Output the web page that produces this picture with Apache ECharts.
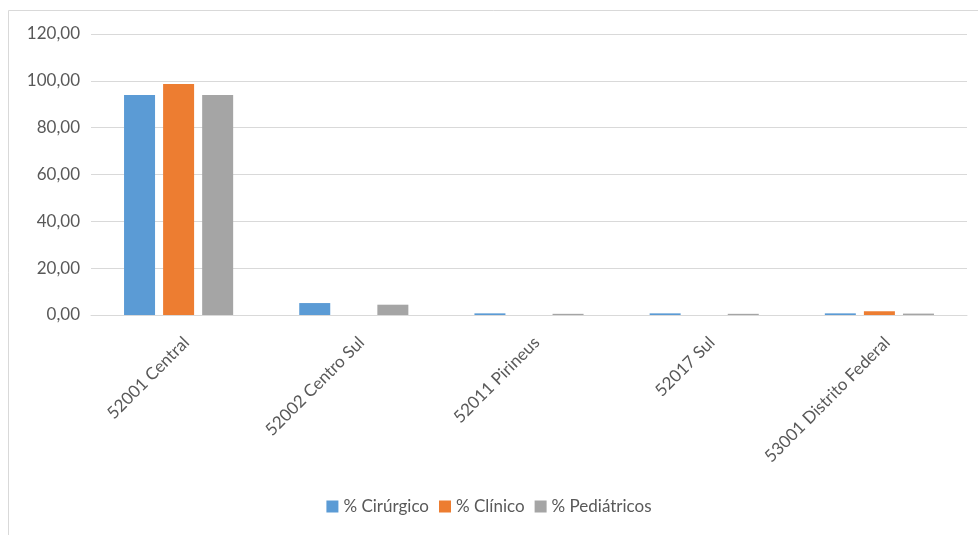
<!DOCTYPE html>
<html><head><meta charset="utf-8">
<script src="https://cdn.jsdelivr.net/npm/echarts@6/dist/echarts.min.js"></script>
<style>html,body{margin:0;padding:0;background:#fff}#c{width:978px;height:535px}</style>
</head><body><div id="c"></div>
<script>
const categories = ['52001 Central', '52002 Centro Sul', '52011 Pirineus', '52017 Sul', '53001 Distrito Federal'];
const cirurgico = [94.0, 5.1, 0.7, 0.7, 0.7];
const clinico = [98.7, 0, 0, 0, 1.6];
const pediatricos = [94.0, 4.4, 0.5, 0.5, 0.6];
const seriesNames = ['% Cirúrgico', '% Clínico', '% Pediátricos'];
const colors = ['#5b9bd5', '#ed7d31', '#a5a5a5'];

const chart = echarts.init(document.getElementById('c'), null, {renderer: 'canvas'});
const font = 'Lato, "Open Sans", sans-serif';
const fs = 17;
const mk = (name, data, i) => ({
  name, type: 'bar', data, barWidth: 31, barGap: '26%',
  itemStyle: {color: colors[i]}
});
chart.setOption({
  animation: false,
  textStyle: {fontFamily: font},
  graphic: [{type: 'polyline', shape: {points: [[8.5, 535], [8.5, 10.5], [978, 10.5]]},
    style: {stroke: '#d9d9d9', lineWidth: 1, fill: null}}],
  grid: {left: 91, right: 11, top: 34, bottom: 220},
  legend: {bottom: 15, left: 'center', itemWidth: 12, itemHeight: 12, itemGap: 10,
    icon: 'rect', textStyle: {color: '#595959', fontSize: fs, fontFamily: font},
    data: seriesNames},
  xAxis: {type: 'category', data: categories,
    axisLine: {lineStyle: {color: '#d9d9d9'}}, axisTick: {show: false},
    axisLabel: {rotate: 45, color: '#595959', fontSize: fs, fontFamily: font, interval: 0,
      margin: 17, verticalAlign: 'top', lineHeight: 22}},
  yAxis: {type: 'value', min: 0, max: 120, interval: 20,
    axisLine: {show: false}, axisTick: {show: false},
    splitLine: {lineStyle: {color: '#d9d9d9'}},
    axisLabel: {color: '#595959', fontSize: fs, fontFamily: font, margin: 11,
      formatter: v => v.toFixed(2).replace('.', ',')}},
  series: [mk(seriesNames[0], cirurgico, 0), mk(seriesNames[1], clinico, 1), mk(seriesNames[2], pediatricos, 2)]
});
</script></body></html>
